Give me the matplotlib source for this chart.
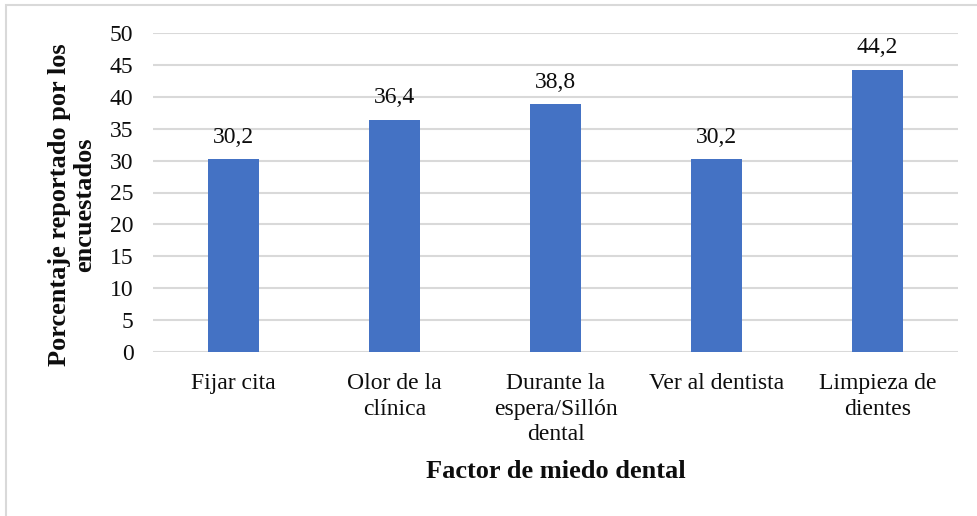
import matplotlib
matplotlib.use("Agg")
import matplotlib.pyplot as plt
from matplotlib.patches import Rectangle

categories = ["Fijar cita", "Olor de la\nclínica", "Durante la\nespera/Sillón\ndental",
              "Ver al dentista", "Limpieza de\ndientes"]
values = [30.2, 36.4, 38.8, 30.2, 44.2]
y_ticks = [0, 5, 10, 15, 20, 25, 30, 35, 40, 45, 50]

plt.rcParams["font.family"] = ["Liberation Serif", "DejaVu Serif"]
TXT = "#0d0d0d"

W, H = 977, 516
fig = plt.figure(figsize=(W / 100, H / 100), dpi=100)
ax = fig.add_axes([153 / W, 1 - 352 / H, (958 - 153) / W, (352 - 33) / H])

x = range(len(categories))
bars = ax.bar(x, values, width=0.316, color="#4472C4", zorder=3)

for xi, v in zip(x, values):
    ax.annotate(f"{v:.1f}".replace(".", ","), (xi, v), xytext=(0, 8.5),
                textcoords="offset points", ha="center", va="bottom",
                fontsize=17, color=TXT)

ax.set_xlim(-0.5, len(categories) - 0.5)
ax.set_ylim(0, 50)
ax.set_yticks(y_ticks)
ax.set_yticklabels([str(t) for t in y_ticks], fontsize=17)
ax.set_xticks(list(x))
ax.set_xticklabels(categories, fontsize=17, linespacing=1.3)
ax.tick_params(axis="both", length=0, colors=TXT)
ax.tick_params(axis="y", pad=14)
ax.tick_params(axis="x", pad=15)
ax.grid(axis="y", color="#D9D9D9", linewidth=1.5, zorder=0)
for s in ax.spines.values():
    s.set_visible(False)

fig.text(72.5 / W, 1 - 205 / H, "Porcentaje reportado por los\nencuestados",
         rotation=90, ha="center", va="center", fontsize=19,
         fontweight="bold", linespacing=1.12, color=TXT)
fig.text(555.5 / W, 1 - 472 / H, "Factor de miedo dental", ha="center",
         va="center", fontsize=19, fontweight="bold", color=TXT)

fig.patches.append(Rectangle((6 / W, -0.1), 1.2, 1 - 4.5 / H + 0.1,
                             transform=fig.transFigure, fill=False,
                             edgecolor="#D9D9D9", linewidth=1.5))

fig.savefig("out.png", dpi=100)
